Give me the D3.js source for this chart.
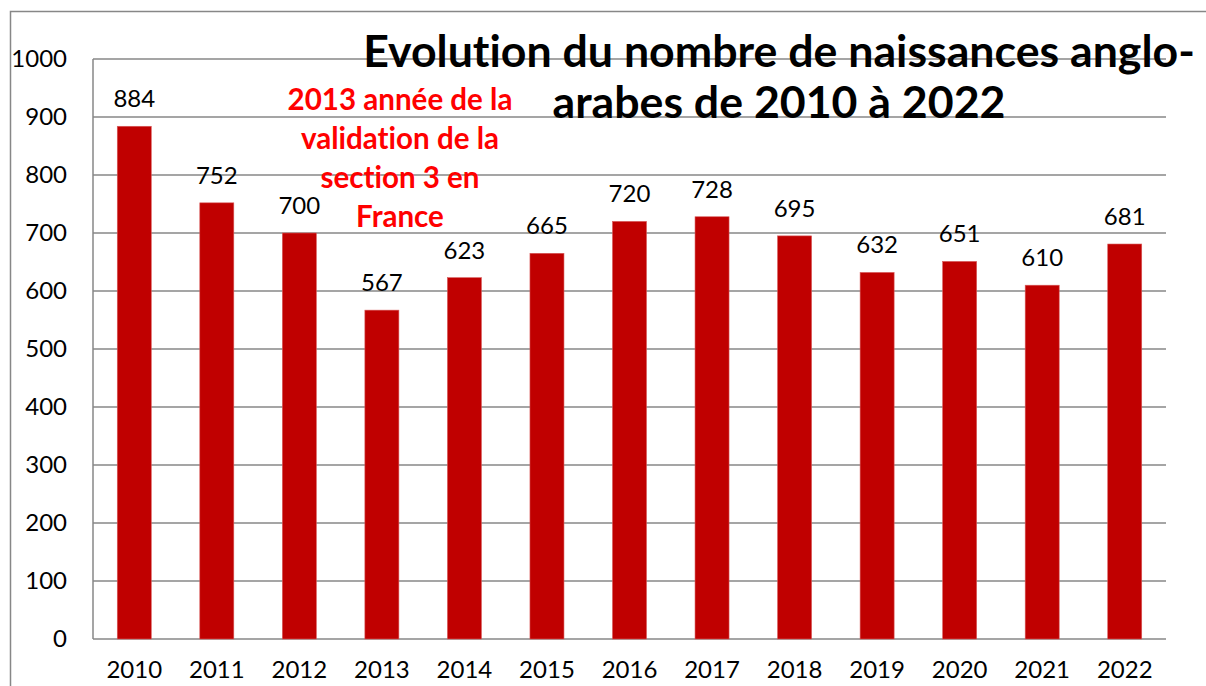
<!DOCTYPE html>
<html>
<head>
<meta charset="utf-8">
<script src="https://cdn.jsdelivr.net/npm/d3@7"></script>
<style>
  html, body { margin: 0; padding: 0; background: #fff; }
  svg { display: block; }
  text { font-variant-ligatures: none; font-feature-settings: "liga" 0; }
</style>
</head>
<body>
<svg id="chart" width="1206" height="686"></svg>
<script>
const years = ["2010","2011","2012","2013","2014","2015","2016","2017","2018","2019","2020","2021","2022"];
const births = [884, 752, 700, 567, 623, 665, 720, 728, 695, 632, 651, 610, 681];
const yTicks = [0, 100, 200, 300, 400, 500, 600, 700, 800, 900, 1000];
const titleLines = ["Evolution du nombre de naissances anglo-", "arabes de 2010 à 2022"];
const noteLines = ["2013 année de la", "validation de la", "section 3 en", "France"];

const W = 1206, H = 686;
const plot = { left: 93, right: 1166, top: 59, bottom: 639 };
const FONT = "Lato, 'Open Sans', sans-serif";
const GRID = "#878787";
const LABEL_SIZE = 24;

const svg = d3.select("#chart");

// outer frame (extends beyond view on right/bottom)
svg.append("path")
  .attr("d", `M10.5,${H + 5} V11.5 H${W + 5}`)
  .attr("fill", "none").attr("stroke", GRID).attr("stroke-width", 1.5);

const x = d3.scaleBand().domain(years).range([plot.left, plot.right])
  .paddingInner(0.588).paddingOuter(0.294);
const y = d3.scaleLinear().domain([0, 1000]).range([plot.bottom, plot.top]);

// gridlines
svg.append("g").selectAll("line").data(yTicks).join("line")
  .attr("x1", plot.left).attr("x2", plot.right)
  .attr("y1", d => y(d)).attr("y2", d => y(d))
  .attr("stroke", GRID).attr("stroke-width", 1.5);

// left plot border
svg.append("line")
  .attr("x1", plot.left).attr("x2", plot.left)
  .attr("y1", plot.top).attr("y2", plot.bottom)
  .attr("stroke", GRID).attr("stroke-width", 1.5);

// y axis labels
const yAxis = d3.axisLeft(y).tickValues(yTicks).tickFormat(d3.format("d")).tickSize(0).tickPadding(26);
const gy = svg.append("g").attr("transform", `translate(${plot.left},0)`).call(yAxis);
gy.select(".domain").remove();
gy.selectAll("text").attr("font-family", FONT).attr("font-size", LABEL_SIZE).attr("fill", "#000");

// x axis labels
const xAxis = d3.axisBottom(x).tickSize(0).tickPadding(22);
const gx = svg.append("g").attr("transform", `translate(0,${plot.bottom})`).call(xAxis);
gx.select(".domain").remove();
gx.selectAll("text").attr("font-family", FONT).attr("font-size", LABEL_SIZE).attr("fill", "#000");

// bars
svg.append("g").selectAll("rect").data(years).join("rect")
  .attr("x", (d) => x(d))
  .attr("width", x.bandwidth())
  .attr("y", (d, i) => y(births[i]))
  .attr("height", (d, i) => y(0) - y(births[i]))
  .attr("fill", "#C00000")
  .attr("stroke", "#d85a5a").attr("stroke-width", 0.6);

// value labels
svg.append("g").selectAll("text").data(years).join("text")
  .attr("x", d => x(d) + x.bandwidth() / 2)
  .attr("y", (d, i) => y(births[i]) - 19)
  .attr("text-anchor", "middle")
  .attr("font-family", FONT).attr("font-size", LABEL_SIZE).attr("fill", "#000")
  .text((d, i) => births[i]);

// helper to fit a font size so a text reaches a target width
function fitSize(text, weight, target, base) {
  const t = svg.append("text").attr("font-family", FONT).attr("font-weight", weight)
    .attr("font-size", base).text(text);
  const w = t.node().getComputedTextLength();
  t.remove();
  return base * target / w;
}

// title
const titleSize = fitSize(titleLines[0], "bold", 832, 40);
svg.append("g").selectAll("text").data(titleLines).join("text")
  .attr("x", 779).attr("y", (d, i) => 67 + i * 51)
  .attr("text-anchor", "middle")
  .attr("font-family", FONT).attr("font-weight", "bold")
  .attr("font-size", titleSize).attr("fill", "#000")
  .text(d => d);

// red annotation
const noteSize = fitSize(noteLines[0], "bold", 225, 27);
svg.append("g").selectAll("text").data(noteLines).join("text")
  .attr("x", 400).attr("y", (d, i) => 110 + i * 39)
  .attr("text-anchor", "middle")
  .attr("font-family", FONT).attr("font-weight", "bold")
  .attr("font-size", noteSize).attr("fill", "#FF0000")
  .text(d => d);
</script>
</body>
</html>
